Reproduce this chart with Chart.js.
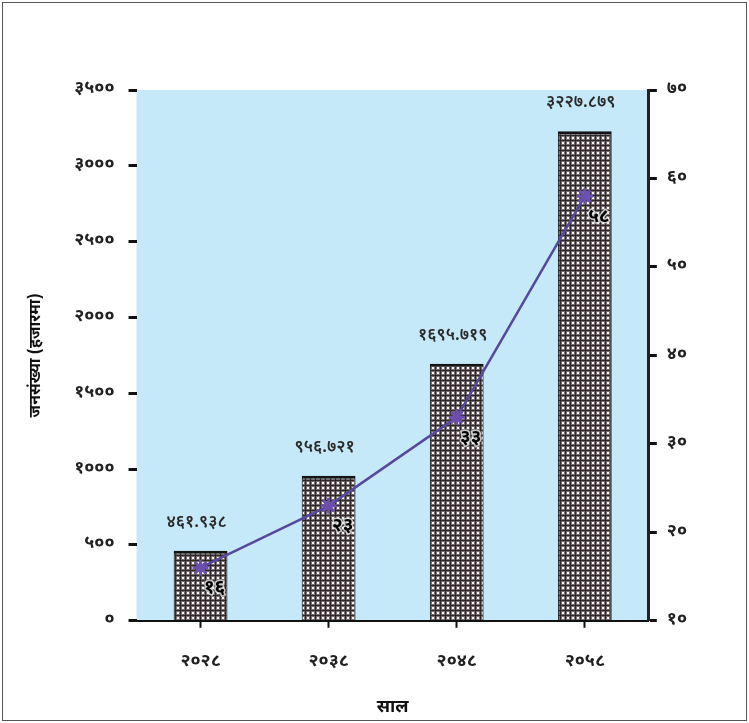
<!DOCTYPE html>
<html>
<head>
<meta charset="utf-8">
<script src="https://cdn.jsdelivr.net/npm/chart.js@4.4.1/dist/chart.umd.min.js"></script>
<style>
  html, body { margin: 0; padding: 0; background: #fff; }
  #wrap { width: 749px; height: 723px; position: relative; }
</style>
</head>
<body>
<div id="wrap"><canvas id="c" width="749" height="723"></canvas></div>
<script>
// data
var years = ['२०२८', '२०३८', '२०४८', '२०५८'];
var population = [461.938, 956.721, 1695.719, 3227.879];   // thousands
var municipalities = [16, 23, 33, 58];
var yTitle = 'जनसंख्या (हजारमा)';
var xTitle = 'साल';

var FONT = '"Noto Sans Devanagari", "Lohit Devanagari", "Noto Sans", sans-serif';
var NEP = ['०', '१', '२', '३', '४', '५', '६', '७', '८', '९'];
function nep(s) {
    return String(s).replace(/[0-9]/g, function (d) { return NEP[+d]; });
}

// checkered fill used for bars
function makePattern() {
    var p = document.createElement('canvas');
    p.width = 5; p.height = 5;
    var g = p.getContext('2d');
    g.fillStyle = '#2f2829';
    g.fillRect(0, 0, 5, 5);
    g.fillStyle = '#756d70';
    g.fillRect(1, 1, 4, 4);
    g.fillStyle = '#f8f4f8';
    g.fillRect(2, 2, 2, 2);
    return g.createPattern(p, 'repeat');
}

var backdrop = {
    id: 'backdrop',
    beforeDraw: function (chart) {
        var ctx = chart.ctx, a = chart.chartArea;
        ctx.save();
        ctx.fillStyle = '#fff';
        ctx.fillRect(0, 0, chart.width, chart.height);
        ctx.strokeStyle = '#555';
        ctx.lineWidth = 1;
        ctx.strokeRect(2.5, 2.5, chart.width - 5, chart.height - 5);
        ctx.fillStyle = '#c6e9f9';
        ctx.fillRect(a.left, a.top, a.right - a.left, a.bottom - a.top);
        ctx.restore();
    }
};

var valueLabels = {
    id: 'valueLabels',
    afterDatasetsDraw: function (chart) {
        var ctx = chart.ctx;
        ctx.save();
        ctx.textAlign = 'center';
        ctx.textBaseline = 'middle';
        ctx.font = '600 17px ' + FONT;
        ctx.fillStyle = '#2a2a2a';
        chart.getDatasetMeta(0).data.forEach(function (el, i) {
            ctx.fillText(nep(population[i].toFixed(3)), el.x - 4, el.y - 27);
        });
        ctx.font = 'bold 19px ' + FONT;
        ctx.lineWidth = 3;
        ctx.strokeStyle = 'rgba(230,230,230,0.8)';
        ctx.fillStyle = '#000';
        chart.getDatasetMeta(1).data.forEach(function (el, i) {
            var t = nep(municipalities[i]);
            ctx.strokeText(t, el.x + 14, el.y + 22);
            ctx.fillText(t, el.x + 14, el.y + 22);
        });
        ctx.restore();
    }
};

var tickFont = { family: FONT, size: 18, weight: 'bold' };

new Chart(document.getElementById('c'), {
    data: {
        labels: years,
        datasets: [{
            type: 'bar',
            data: population,
            yAxisID: 'y',
            backgroundColor: makePattern(),
            borderColor: '#141414',
            borderWidth: { top: 3, left: 1, right: 1, bottom: 0 },
            borderSkipped: false,
            barPercentage: 0.42,
            categoryPercentage: 1,
            order: 1
        }, {
            type: 'line',
            data: municipalities,
            yAxisID: 'y1',
            borderColor: '#56489e',
            borderWidth: 2.5,
            pointStyle: 'star',
            pointRadius: 8,
            pointBorderWidth: 3,
            pointBorderColor: '#6b4fae',
            pointBackgroundColor: '#6b4fae',
            tension: 0,
            order: 0
        }]
    },
    options: {
        responsive: false,
        animation: false,
        layout: { padding: { left: 23, right: 52, top: 90, bottom: 0 } },
        plugins: { legend: { display: false }, tooltip: { enabled: false } },
        scales: {
            x: {
                offset: true,
                grid: { drawOnChartArea: false, offset: false, tickLength: 7, tickWidth: 2, tickColor: '#111' },
                border: { color: '#111', width: 2 },
                ticks: { color: '#222', font: tickFont, padding: 24 },
                title: { display: true, text: xTitle, color: '#111', font: { family: FONT, size: 18, weight: 'bold' }, padding: { top: 0 } }
            },
            y: {
                position: 'left',
                min: 0,
                max: 3500,
                grid: { drawOnChartArea: false, tickLength: 8, tickWidth: 3, tickColor: '#111' },
                border: { display: false },
                ticks: { stepSize: 500, color: '#222', font: tickFont, padding: 14, callback: function (v) { return nep(v); } },
                title: { display: true, text: yTitle, color: '#111', font: { family: FONT, size: 16, weight: 'bold' }, padding: { bottom: 14 } }
            },
            y1: {
                position: 'right',
                min: 10,
                max: 70,
                grid: { drawOnChartArea: false, tickLength: 8, tickWidth: 3, tickColor: '#111' },
                border: { color: '#222', width: 3 },
                ticks: { stepSize: 10, color: '#222', font: tickFont, padding: 10, callback: function (v) { return nep(v); } }
            }
        }
    },
    plugins: [backdrop, valueLabels]
});
</script>
</body>
</html>
